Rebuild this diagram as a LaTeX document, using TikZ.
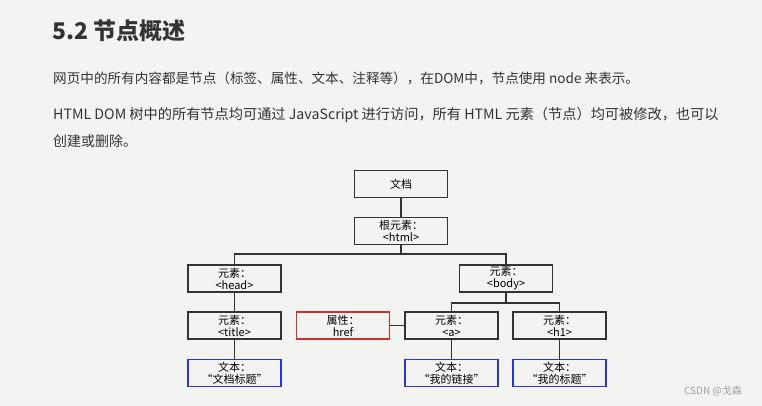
\documentclass[tikz,border=0pt]{standalone}
\usepackage{fontspec}
\setmainfont{Noto Sans CJK SC}
\usepackage{tikz}
\usetikzlibrary{positioning}
\definecolor{pagebg}{HTML}{F3F4F2}
\definecolor{ink}{HTML}{333333}
\definecolor{attrred}{HTML}{D0302C}
\definecolor{textblue}{HTML}{2A35D8}
\tikzset{
  elemnode/.style={draw=ink, line width=1.3pt, rectangle, minimum width=93pt, minimum height=27pt,
    inner sep=0pt, align=center, font=\fontsize{11}{12}\selectfont, text=black},
  attrnode/.style={elemnode, draw=attrred},
  textnode/.style={elemnode, draw=textblue},
  treeline/.style={draw=ink, line width=1.3pt}
}

\begin{document}
\begin{tikzpicture}[x=1pt, y=-1pt]
  \useasboundingbox[fill=pagebg] (0,0) rectangle (762,406);
  % heading and text
  \node[anchor=base west, inner sep=0pt, text=ink, font=\fontsize{23}{26}\selectfont\bfseries] (heading) at (52,40) {5.2 节点概述};
  \node[anchor=base west, inner sep=0pt, text=ink, font=\fontsize{13.6}{16}\selectfont] (para1) at (53,84)
    {网页中的所有内容都是节点（标签、属性、文本、注释等），在DOM中，节点使用 node 来表示。};
  \node[anchor=base west, inner sep=0pt, text=ink, font=\fontsize{14.2}{16}\selectfont] (para2) at (53,120)
    {HTML DOM 树中的所有节点均可通过 JavaScript 进行访问，所有 HTML 元素（节点）均可被修改，也可以};
  \node[anchor=base west, inner sep=0pt, text=ink, font=\fontsize{14}{16}\selectfont] (para3) at (53,147)
    {创建或删除。};
  % tree
  \node[elemnode] (doc) at (401,184) {文档};
  \node[elemnode] (html) at (401,231) {根元素：\\<html>};
  \node[elemnode] (head) at (234.5,278.5) {元素：\\<head>};
  \node[elemnode] (body) at (506,278.5) {元素：\\<body>};
  \node[elemnode] (title) at (234.5,325.5) {元素：\\<title>};
  \node[attrnode] (href) at (343,325.5) {属性：\\href};
  \node[elemnode] (atag) at (451.5,325.5) {元素：\\<a>};
  \node[elemnode] (h1tag) at (559.5,325.5) {元素：\\<h1>};
  \node[textnode] (titletext) at (234.5,373) {文本：\\“文档标题”};
  \node[textnode] (atext) at (451.5,373) {文本：\\“我的链接”};
  \node[textnode] (h1text) at (559.5,373) {文本：\\“我的标题”};
  \coordinate (htmlsplit) at (401,254);
  \coordinate (bodysplit) at (506,303);
  \draw[treeline] (doc) -- (html);
  \draw[treeline] (html.south) -- (htmlsplit) -| (head.north);
  \draw[treeline] (htmlsplit) -| (body.north);
  \draw[treeline] (head) -- (title);
  \draw[treeline] (title) -- (titletext);
  \draw[treeline] (body.south) -- (bodysplit) -| (atag.north);
  \draw[treeline] (bodysplit) -| (h1tag.north);
  \draw[treeline] (href) -- (atag);
  \draw[treeline] (atag) -- (atext);
  \draw[treeline] (h1tag) -- (h1text);
  % watermark
  \node[inner sep=0pt, text=black!38, font=\fontsize{10}{12}\selectfont] (mark) at (713,391) {CSDN @戈森};
\end{tikzpicture}
\end{document}
